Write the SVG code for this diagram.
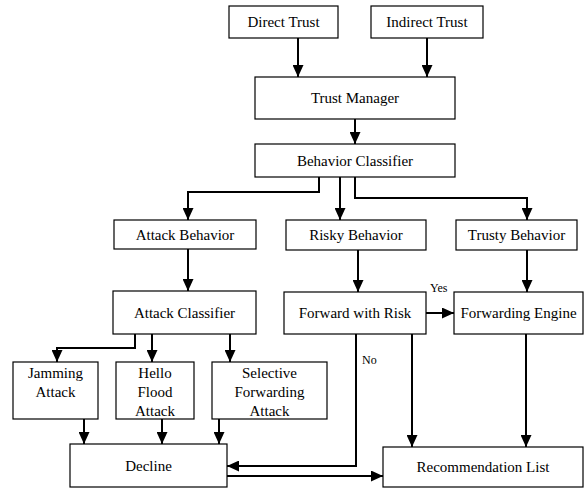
<svg xmlns="http://www.w3.org/2000/svg" width="587" height="488" viewBox="0 0 587 488">
<defs>
<style>
.box{fill:#fff;stroke:#000;stroke-width:1.2}
.t{font-family:'Liberation Serif','Times New Roman',serif;font-size:15px;text-anchor:middle;fill:#000}
.s{font-family:'Liberation Serif','Times New Roman',serif;font-size:12px;fill:#000}
.c{fill:none;stroke:#000;stroke-width:2}
</style>
<marker id="ah" markerUnits="userSpaceOnUse" markerWidth="12" markerHeight="11" refX="12" refY="5.5" orient="auto">
<path d="M0,0 L12,5.5 L0,11 z" fill="#000"/>
</marker>
</defs>
<rect width="587" height="488" fill="#fff"/>
<g id="connectors">
<path class="c" d="M298,38 V77" marker-end="url(#ah)"/>
<path class="c" d="M427,38 V77" marker-end="url(#ah)"/>
<path class="c" d="M355,119 V144" marker-end="url(#ah)"/>
<path class="c" d="M319,177 V192 H188 V220" marker-end="url(#ah)"/>
<path class="c" d="M340,177 V220" marker-end="url(#ah)"/>
<path class="c" d="M355,177 V198 H527 V220" marker-end="url(#ah)"/>
<path class="c" d="M188,249 V291" marker-end="url(#ah)"/>
<path class="c" d="M358,250 V292" marker-end="url(#ah)"/>
<path class="c" d="M527,250 V292" marker-end="url(#ah)"/>
<path class="c" d="M426,313 H454" marker-end="url(#ah)"/>
<path class="c" d="M135,334 V348 H57 V362" marker-end="url(#ah)"/>
<path class="c" d="M152,334 V362" marker-end="url(#ah)"/>
<path class="c" d="M230,334 V362" marker-end="url(#ah)"/>
<path class="c" d="M84,419 V444" marker-end="url(#ah)"/>
<path class="c" d="M162,419 V444" marker-end="url(#ah)"/>
<path class="c" d="M219,419 V444" marker-end="url(#ah)"/>
<path class="c" d="M356,334 V466 H227" marker-end="url(#ah)"/>
<path class="c" d="M412,334 V447" marker-end="url(#ah)"/>
<path class="c" d="M526,334 V447" marker-end="url(#ah)"/>
<path class="c" d="M227,476 H383" marker-end="url(#ah)"/>
<text class="s" x="430" y="292">Yes</text>
<text class="s" x="362" y="364">No</text>
</g>
<g id="direct-trust"><rect class="box" x="229" y="6" width="109" height="32"/><text class="t" x="283.5" y="27">Direct Trust</text></g>
<g id="indirect-trust"><rect class="box" x="371" y="6" width="112" height="32"/><text class="t" x="427" y="27">Indirect Trust</text></g>
<g id="trust-manager"><rect class="box" x="255" y="77" width="200" height="42"/><text class="t" x="355" y="103">Trust Manager</text></g>
<g id="behavior-classifier"><rect class="box" x="255" y="144" width="200" height="33"/><text class="t" x="355" y="166">Behavior Classifier</text></g>
<g id="attack-behavior"><rect class="box" x="114" y="220" width="142" height="29"/><text class="t" x="185" y="240">Attack Behavior</text></g>
<g id="risky-behavior"><rect class="box" x="286" y="220" width="140" height="30"/><text class="t" x="356" y="240">Risky Behavior</text></g>
<g id="trusty-behavior"><rect class="box" x="456" y="220" width="121" height="30"/><text class="t" x="516.5" y="240">Trusty Behavior</text></g>
<g id="attack-classifier"><rect class="box" x="113" y="291" width="143" height="43"/><text class="t" x="184.5" y="318">Attack Classifier</text></g>
<g id="forward-with-risk"><rect class="box" x="284" y="292" width="142" height="42"/><text class="t" x="355" y="318">Forward with Risk</text></g>
<g id="forwarding-engine"><rect class="box" x="454" y="292" width="129" height="42"/><text class="t" x="518.5" y="318">Forwarding Engine</text></g>
<g id="jamming-attack"><rect class="box" x="13" y="362" width="85" height="57"/><text class="t" x="55.5" y="378">Jamming</text><text class="t" x="55.5" y="397">Attack</text></g>
<g id="hello-flood-attack"><rect class="box" x="116" y="362" width="78" height="57"/><text class="t" x="155" y="378">Hello</text><text class="t" x="155" y="397">Flood</text><text class="t" x="155" y="416">Attack</text></g>
<g id="selective-forwarding-attack"><rect class="box" x="212" y="362" width="115" height="57"/><text class="t" x="269.5" y="378">Selective</text><text class="t" x="269.5" y="397">Forwarding</text><text class="t" x="269.5" y="416">Attack</text></g>
<g id="decline"><rect class="box" x="70" y="444" width="157" height="43"/><text class="t" x="148.5" y="471">Decline</text></g>
<g id="recommendation-list"><rect class="box" x="383" y="447" width="200" height="40"/><text class="t" x="483" y="472">Recommendation List</text></g>
</svg>
